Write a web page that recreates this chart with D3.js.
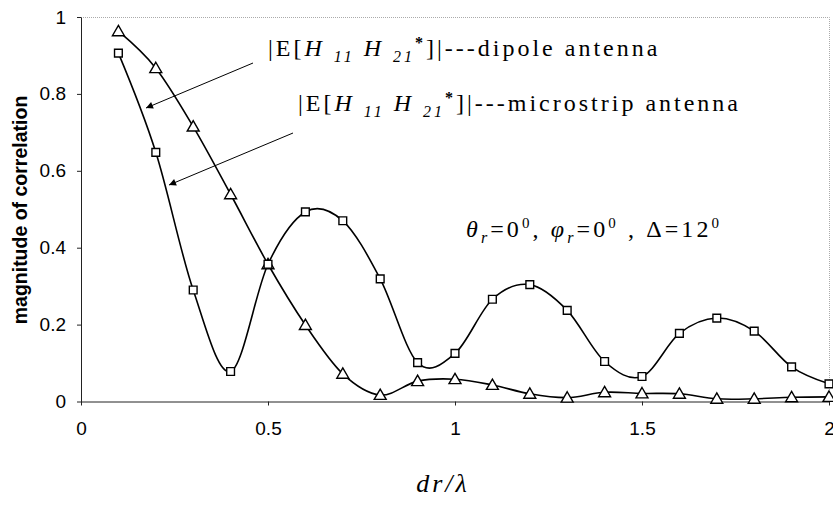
<!DOCTYPE html>
<meta charset="utf-8">
<style>

body {
  margin: 0;
  background: #fff;
}

.tick text {
  font-family: "Liberation Sans", Arial, sans-serif;
  font-size: 19px;
  fill: #000;
}

.axis path,
.axis line {
  stroke: #222;
  stroke-width: 1px;
}

.frame {
  fill: none;
  stroke: #aaa;
  stroke-width: 1px;
  stroke-dasharray: 1,1;
}

.curve {
  fill: none;
  stroke: #000;
  stroke-width: 1.6px;
}

.marker {
  fill: #fff;
  stroke: #000;
  stroke-width: 1.4px;
}

.note {
  font-family: "Liberation Serif", "Times New Roman", serif;
  font-size: 24px;
  fill: #000;
}

.arrow {
  stroke: #000;
  stroke-width: 1px;
}

</style>
<body>
<script src="https://cdn.jsdelivr.net/npm/d3@7/dist/d3.min.js"></script>
<script>

var width = 833,
    height = 506;

var margin = {top: 17, right: 4, bottom: 105, left: 81};

// spacing dr/lambda
var spacing = [0.1, 0.2, 0.3, 0.4, 0.5, 0.6, 0.7, 0.8, 0.9, 1.0,
               1.1, 1.2, 1.3, 1.4, 1.5, 1.6, 1.7, 1.8, 1.9, 2.0];

// |E[H11 H21*]| for dipole antennas
var dipole = [0.963, 0.867, 0.715, 0.539, 0.357, 0.199, 0.072, 0.017, 0.053, 0.058,
              0.043, 0.020, 0.010, 0.024, 0.021, 0.020, 0.007, 0.007, 0.011, 0.012];

// |E[H11 H21*]| for microstrip antennas
var microstrip = [0.906, 0.648, 0.290, 0.078, 0.357, 0.493, 0.470, 0.319, 0.101, 0.125,
                  0.266, 0.304, 0.237, 0.104, 0.065, 0.177, 0.217, 0.183, 0.090, 0.046];

var xTicks = [0, 0.5, 1, 1.5, 2],
    yTicks = [0, 0.2, 0.4, 0.6, 0.8, 1];

var svg = d3.select("body").append("svg")
    .attr("width", width)
    .attr("height", height)
    .style("display", "block");

var x = d3.scaleLinear()
    .domain([0, 2])
    .range([margin.left, width - margin.right]);

var y = d3.scaleLinear()
    .domain([0, 1])
    .range([height - margin.bottom + 0.5, margin.top]);

// dotted frame on top and right
svg.append("path")
    .attr("class", "frame")
    .attr("d", "M" + x(0) + "," + (y(1) + 0.5) + "H" + (x(2) + 0.5) + "V" + y(0));

svg.append("g")
    .attr("class", "axis")
    .attr("transform", "translate(0," + y(0) + ")")
    .call(d3.axisBottom(x).tickValues(xTicks).tickSize(4).tickSizeOuter(0)
      .tickFormat(function(d) { return String(d); }))
    .call(function(g) { g.selectAll("text").attr("dy", "1.4em"); });

svg.append("g")
    .attr("class", "axis")
    .attr("transform", "translate(" + x(0) + ",0)")
    .call(d3.axisLeft(y).tickValues(yTicks).tickSize(4).tickSizeOuter(0)
      .tickFormat(function(d) { return String(d); }))
    .call(function(g) { g.selectAll("text").attr("x", -15); });

svg.append("text")
    .attr("transform", "translate(27," + 210 + ") rotate(-90)")
    .attr("text-anchor", "middle")
    .style("font-family", "Liberation Sans, Arial, sans-serif")
    .style("font-weight", "bold")
    .style("font-size", "19.5px")
    .text("magnitude of correlation");

svg.append("text")
    .attr("class", "note")
    .attr("x", 443)
    .attr("y", 492)
    .attr("text-anchor", "middle")
    .style("font-style", "italic")
    .style("font-size", "26px")
    .style("letter-spacing", "3px")
    .text("dr/\u03bb");

var line = d3.line()
    .x(function(d) { return x(d[0]); })
    .y(function(d) { return y(d[1]); })
    .curve(d3.curveCardinal.tension(0));

var series = [
  {values: dipole, symbol: d3.symbolTriangle, size: 62, dy: 1},
  {values: microstrip, symbol: d3.symbolSquare, size: 60, dy: 0}
];

series.forEach(function(s) {
  var pts = spacing.map(function(v, i) { return [v, s.values[i]]; });

  svg.append("path")
      .datum(pts)
      .attr("class", "curve")
      .attr("d", line);

  svg.selectAll(null)
      .data(pts).enter()
      .append("path")
      .attr("class", "marker")
      .attr("transform", function(d) {
        return "translate(" + x(d[0]) + "," + (y(d[1]) + s.dy) + ")";
      })
      .attr("d", d3.symbol().type(s.symbol).size(s.size));
});

// annotation labels
function corrLabel(x0, y0, tail) {
  var t = svg.append("text")
      .attr("class", "note")
      .attr("x", x0)
      .attr("y", y0)
      .style("letter-spacing", "3px");
  t.append("tspan").text("|E[");
  t.append("tspan").style("font-style", "italic").text("H ");
  t.append("tspan").style("font-style", "italic").style("font-size", "16px")
      .attr("dy", 6).text("11");
  t.append("tspan").style("font-style", "italic").attr("dy", -6).text(" H  ");
  t.append("tspan").style("font-style", "italic").style("font-size", "16px")
      .attr("dy", 6).text("21");
  t.append("tspan").style("font-size", "16px").style("font-weight", "bold")
      .attr("dy", -14).text("*");
  t.append("tspan").attr("dy", 8).text("]|---" + tail);
}

corrLabel(268, 56, "dipole antenna");
corrLabel(298, 111, "microstrip antenna");

var cond = svg.append("text")
    .attr("class", "note")
    .attr("x", 466)
    .attr("y", 237)
    .style("letter-spacing", "3.1px");
cond.append("tspan").style("font-style", "italic").text("\u03b8");
cond.append("tspan").style("font-style", "italic").style("font-size", "16px").attr("dy", 6).text("r");
cond.append("tspan").attr("dy", -6).text("=0");
cond.append("tspan").style("font-size", "15px").attr("dy", -9).text("0");
cond.append("tspan").attr("dy", 9).text(", ");
cond.append("tspan").style("font-style", "italic").text("\u03c6");
cond.append("tspan").style("font-style", "italic").style("font-size", "16px").attr("dy", 6).text("r");
cond.append("tspan").attr("dy", -6).text("=0");
cond.append("tspan").style("font-size", "15px").attr("dy", -9).text("0");
cond.append("tspan").attr("dy", 9).text(" , \u0394=12");
cond.append("tspan").style("font-size", "15px").attr("dy", -9).text("0");

// arrows pointing at the curves
svg.append("defs").append("marker")
    .attr("id", "head")
    .attr("viewBox", "0 -5 10 10")
    .attr("refX", 10)
    .attr("markerWidth", 11)
    .attr("markerHeight", 7)
    .attr("markerUnits", "userSpaceOnUse")
    .attr("orient", "auto")
  .append("path")
    .attr("d", "M0,-5L10,0L0,5Z")
    .attr("fill", "#000");

var arrows = [
  [[253, 63], [146, 108]],
  [[293, 133], [169, 185]]
];

svg.selectAll(".arrow")
    .data(arrows).enter()
    .append("line")
    .attr("class", "arrow")
    .attr("x1", function(d) { return d[0][0]; })
    .attr("y1", function(d) { return d[0][1]; })
    .attr("x2", function(d) { return d[1][0]; })
    .attr("y2", function(d) { return d[1][1]; })
    .attr("marker-end", "url(#head)");

</script>
</body>
